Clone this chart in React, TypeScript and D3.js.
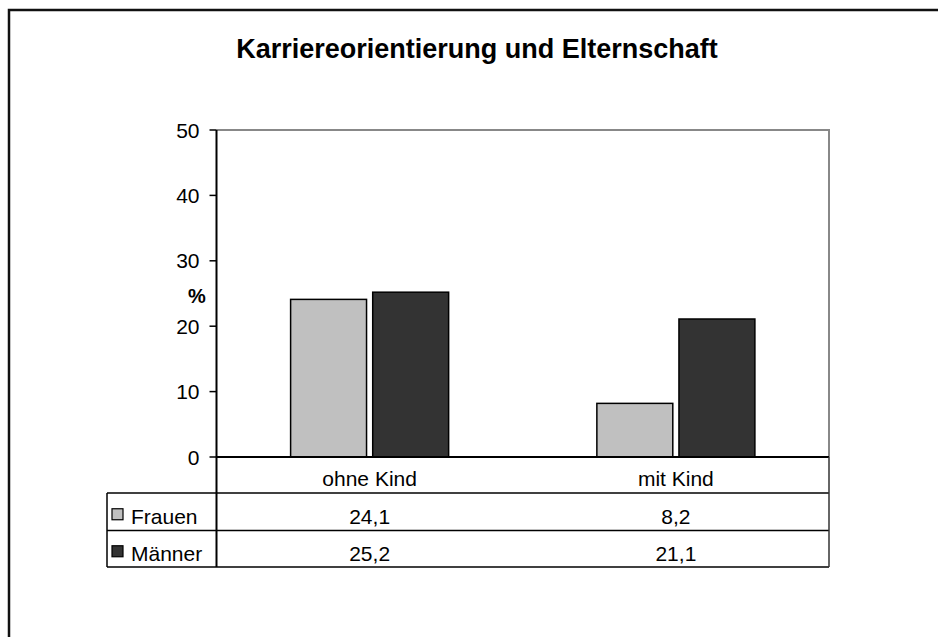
import React from "react";
import * as d3 from "d3";

const categories = ["ohne Kind", "mit Kind"];
const seriesNames = ["Frauen", "Männer"];
const frauenValues = [24.1, 8.2];
const maennerValues = [25.2, 21.1];
const yTicks = [0, 10, 20, 30, 40, 50];
const seriesColors = ["#c0c0c0", "#333333"];

const W = 938;
const H = 637;
const plot = { left: 216.5, top: 130, right: 829, bottom: 457 };
const rowLines = [493, 530.5, 567];
const tableLeft = 107;
const font = "'Liberation Sans', Arial, Helvetica, sans-serif";

const fmt = (v: number) => d3.format(".1f")(v).replace(".", ",");

const App = () => {
  const series = [frauenValues, maennerValues];

  const y = d3.scaleLinear().domain([0, 50]).range([plot.bottom, plot.top]);

  const pInner = 0.484;
  const x0 = d3
    .scaleBand<string>()
    .domain(categories)
    .range([plot.left, plot.right])
    .paddingInner(pInner)
    .paddingOuter(pInner / 2);

  const x1 = d3
    .scaleBand<string>()
    .domain(seriesNames)
    .range([0, x0.bandwidth()])
    .paddingInner(0.075);

  const center = (c: string) => (x0(c) as number) + x0.bandwidth() / 2;

  return (
    <svg
      width={W}
      height={H}
      style={{ position: "absolute", left: 0, top: 0, background: "#fff" }}
      fontFamily={font}
    >
      {/* outer frame */}
      <rect x={9} y={10} width={W} height={H} fill="none" stroke="#111" strokeWidth={2.5} />

      <text x={477} y={58} textAnchor="middle" fontSize={27} fontWeight="bold" fill="#000">
        Karriereorientierung und Elternschaft
      </text>

      {/* plot frame top/right */}
      <path
        d={`M${plot.left},${plot.top}H${plot.right}V${plot.bottom}`}
        fill="none"
        stroke="#888"
        strokeWidth={2}
      />

      {/* bars */}
      {categories.map((c, ci) =>
        seriesNames.map((s, si) => {
          const v = series[si][ci];
          return (
            <rect
              key={c + s}
              x={(x0(c) as number) + (x1(s) as number)}
              y={y(v)}
              width={x1.bandwidth()}
              height={y(0) - y(v)}
              fill={seriesColors[si]}
              stroke="#000"
              strokeWidth={1.5}
            />
          );
        })
      )}

      {/* y axis ticks */}
      {yTicks.map((t) => (
        <g key={t}>
          <line x1={plot.left - 7} x2={plot.left} y1={y(t)} y2={y(t)} stroke="#000" strokeWidth={1.5} />
          <text x={plot.left - 17} y={y(t)} dy="0.36em" textAnchor="end" fontSize={21} fill="#000">
            {t}
          </text>
        </g>
      ))}
      <text x={197} y={296} dy="0.36em" textAnchor="middle" fontSize={20} fontWeight="bold">
        %
      </text>

      {/* axes */}
      <line x1={plot.left} x2={plot.left} y1={plot.top} y2={rowLines[2]} stroke="#000" strokeWidth={2} />
      <line x1={plot.left} x2={plot.right} y1={plot.bottom} y2={plot.bottom} stroke="#000" strokeWidth={2} />

      {/* data table */}
      {rowLines.map((ry) => (
        <line key={ry} x1={tableLeft} x2={plot.right} y1={ry} y2={ry} stroke="#000" strokeWidth={1.5} />
      ))}
      <line x1={tableLeft} x2={tableLeft} y1={rowLines[0]} y2={rowLines[2]} stroke="#000" strokeWidth={1.5} />
      <line x1={plot.right} x2={plot.right} y1={plot.bottom} y2={rowLines[2]} stroke="#333" strokeWidth={1.5} />

      {categories.map((c) => (
        <text
          key={c}
          x={center(c)}
          y={(plot.bottom + rowLines[0]) / 2}
          dy="0.5em"
          textAnchor="middle"
          fontSize={21}
        >
          {c}
        </text>
      ))}

      {seriesNames.map((s, si) => {
        const mid = (rowLines[si] + rowLines[si + 1]) / 2;
        return (
          <g key={s}>
            <rect x={112} y={mid - 3} width={11} height={11} fill={seriesColors[si]} stroke="#000" strokeWidth={1.2} />
            <text x={131} y={mid} dy="0.57em" fontSize={21}>
              {s}
            </text>
            {categories.map((c, ci) => (
              <text key={c} x={center(c)} y={mid} dy="0.57em" textAnchor="middle" fontSize={21}>
                {fmt(series[si][ci])}
              </text>
            ))}
          </g>
        );
      })}
    </svg>
  );
};

export default App;
